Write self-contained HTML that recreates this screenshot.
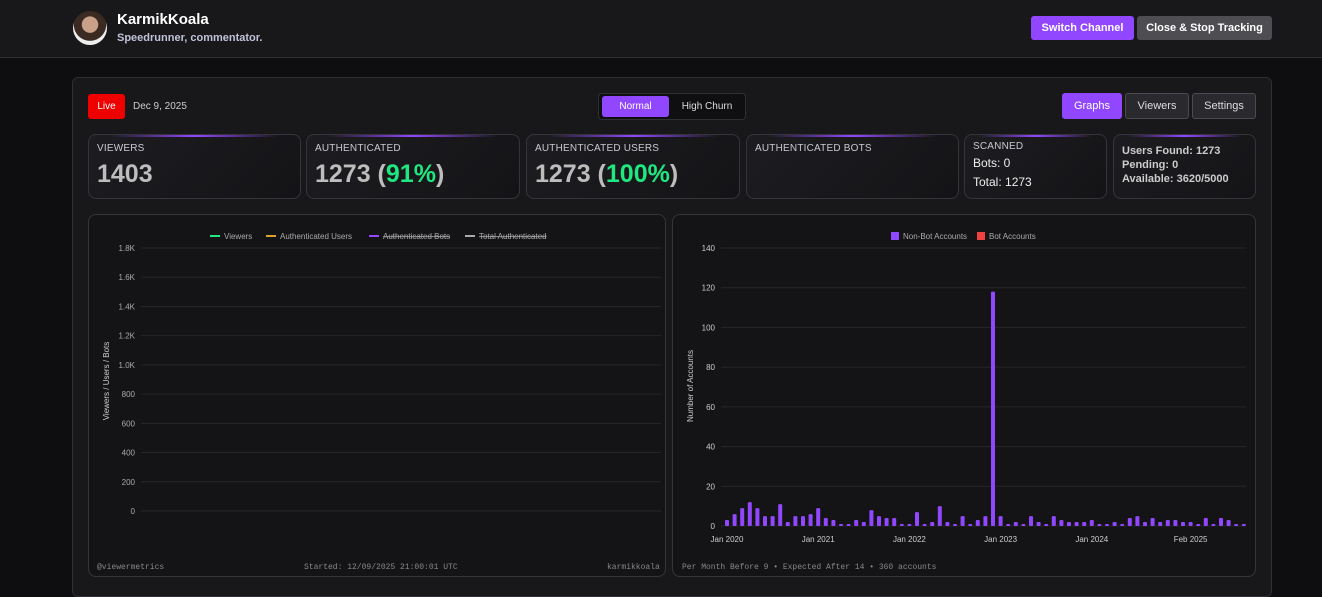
<!DOCTYPE html>
<html><head><meta charset="utf-8">
<style>
*{box-sizing:border-box;margin:0;padding:0}
body{width:1322px;height:589px;overflow:hidden;background:#0e0e10;font-family:"Liberation Sans",sans-serif;color:#ddd;position:relative}
.abs{position:absolute}
.hdr{left:0;top:0;width:1322px;height:58px;background:#18181b;border-bottom:1px solid #2f2f35}
.btn{position:absolute;border-radius:3px;font-size:11px;display:flex;align-items:center;justify-content:center;font-weight:bold;white-space:nowrap}
.panel{left:72px;top:77px;width:1200px;height:520px;background:#18181b;border:1px solid #2f2f35;border-radius:6px}
.card{position:absolute;top:134px;height:65px;border:1px solid #34343a;border-radius:8px;background:linear-gradient(135deg,#1d1d21,#141417);overflow:hidden}
.card:before{content:"";position:absolute;left:10%;right:10%;top:0;height:2px;background:linear-gradient(90deg,transparent,#9147ff,transparent)}
.lbl{position:absolute;left:8px;top:8px;font-size:10px;color:#c8c8d0;letter-spacing:.2px}
.big{position:absolute;left:8px;top:25px;font-size:25px;font-weight:bold;color:#bdbdbd}
.g{color:#1ee87f}
.chart{position:absolute;top:214px;height:363px;border:1px solid #34343a;border-radius:8px;background:#141416;overflow:hidden}
.mono{font-family:"Liberation Mono",monospace;font-size:8px;color:#888}
</style></head><body>
<div class="abs hdr">
  <div class="abs" style="left:73px;top:11px;width:34px;height:34px;border-radius:50%;background:radial-gradient(circle at 50% 40%,#c9a189 0 30%,#3a2a22 32% 60%,#eee 62%)"></div>
  <div class="abs" style="left:117px;top:11px;font-size:15px;font-weight:bold;color:#fff">KarmikKoala</div>
  <div class="abs" style="left:117px;top:32px;font-size:11px;font-weight:bold;color:#bfc3d6">Speedrunner, commentator.</div>
  <div class="btn" style="left:1031px;top:16px;width:103px;height:24px;background:#9147ff;color:#fff">Switch Channel</div>
  <div class="btn" style="left:1137px;top:16px;width:135px;height:24px;background:#4d4d52;color:#fff">Close &amp; Stop Tracking</div>
</div>
<div class="abs panel"></div>
<div class="btn" style="left:88px;top:94px;width:37px;height:25px;background:#e00;color:#fff;font-weight:normal;font-size:10px">Live</div>
<div class="abs" style="left:133px;top:101px;font-size:10px;color:#ccc">Dec 9, 2025</div>
<div class="abs" style="left:598px;top:93px;width:148px;height:27px;border:1px solid #2f2f35;border-radius:4px;background:#0f0f11"></div>
<div class="btn" style="left:602px;top:96px;width:67px;height:21px;background:#9147ff;color:#fff;font-weight:normal;font-size:10px">Normal</div>
<div class="btn" style="left:672px;top:96px;width:70px;height:21px;color:#ddd;font-weight:normal;font-size:10px">High Churn</div>
<div class="btn" style="left:1062px;top:93px;width:60px;height:26px;background:#9147ff;color:#fff;font-weight:normal">Graphs</div>
<div class="btn" style="left:1125px;top:93px;width:64px;height:26px;background:#2a2a2e;border:1px solid #4a4a50;color:#ddd;font-weight:normal">Viewers</div>
<div class="btn" style="left:1192px;top:93px;width:64px;height:26px;background:#2a2a2e;border:1px solid #4a4a50;color:#ddd;font-weight:normal">Settings</div>

<div class="card" style="left:88px;width:213px"><div class="lbl">VIEWERS</div><div class="big">1403</div></div>
<div class="card" style="left:306px;width:214px"><div class="lbl">AUTHENTICATED</div><div class="big">1273 (<span class="g">91%</span>)</div></div>
<div class="card" style="left:526px;width:214px"><div class="lbl">AUTHENTICATED USERS</div><div class="big">1273 (<span class="g">100%</span>)</div></div>
<div class="card" style="left:746px;width:213px"><div class="lbl">AUTHENTICATED BOTS</div></div>
<div class="card" style="left:964px;width:143px"><div class="lbl" style="top:6px">SCANNED</div><div class="abs" style="left:8px;top:21px;font-size:12px;color:#eee">Bots: 0</div><div class="abs" style="left:8px;top:40px;font-size:12px;color:#eee">Total: 1273</div></div>
<div class="card" style="left:1113px;width:143px"><div class="abs" style="left:8px;top:9px;font-size:11px;font-weight:bold;color:#ccc;line-height:14px">Users Found: 1273<br>Pending: 0<br>Available: 3620/5000</div></div>

<div class="chart" style="left:88px;width:578px">
<svg id="lsvg" width="578" height="363" style="position:absolute;left:0;top:0"></svg>
<div class="abs mono" style="left:8px;top:348px">@viewermetrics</div>
<div class="abs mono" style="left:215px;top:348px">Started: 12/09/2025 21:00:01 UTC</div>
<div class="abs mono" style="left:518px;top:348px">karmikkoala</div>
</div>
<div class="chart" style="left:672px;width:584px">
<svg id="bsvg" width="584" height="363" style="position:absolute;left:0;top:0"></svg>
<div class="abs mono" style="left:9px;top:348px">Per Month Before 9 • Expected After 14 • 360 accounts</div>
</div>
<script>
const NS="http://www.w3.org/2000/svg";
function mk(p,t,a,txt){const e=document.createElementNS(NS,t);for(const k in a)e.setAttribute(k,a[k]);if(txt!==undefined)e.textContent=txt;p.appendChild(e);return e;}
// Line chart (empty data)
const lineTicks=[0,200,400,600,800,1000,1200,1400,1600,1800];
const lineTickLabels=["0","200","400","600","800","1.0K","1.2K","1.4K","1.6K","1.8K"];
const legendLine=["Viewers","Authenticated Users","Authenticated Bots","Total Authenticated"];
const legendColors=["#1ee87f","#e0a030","#9147ff","#aaa"];
const ls=document.getElementById('lsvg');
const ly=v=>296-v/1800*263;
lineTicks.forEach((v,i)=>{
 const l=mk(ls,'line',{x1:52,x2:572,y1:ly(v),y2:ly(v),stroke:'#26262a'});
 
 const t=mk(ls,'text',{x:46,y:ly(v)+3,'text-anchor':'end','font-size':8,fill:'#aaa'},lineTickLabels[i]);
 
});
const yt=mk(ls,'text',{transform:'translate(20,166) rotate(-90)','text-anchor':'middle','font-size':8,fill:'#ccc'},'Viewers / Users / Bots');

let lx=[121,177,280,376];
legendLine.forEach((n,i)=>{
 const g=mk(ls,'g',{});
 mk(g,'line',{x1:lx[i],x2:lx[i]+10,y1:21,y2:21,stroke:legendColors[i],'stroke-width':2});
 mk(g,'text',{x:lx[i]+14,y:24,'font-size':8,fill:'#aaa','text-decoration':i>=2?'line-through':'none'},n);
});
// Bar chart
const barValues=[3,6,9,12,9,5,5,11,2,5,5,6,9,4,3,1,1,3,2,8,5,4,4,1,1,7,1,2,10,2,1,5,1,3,5,118,5,1,2,1,5,2,1,5,3,2,2,2,3,1,1,2,1,4,5,2,4,2,3,3,2,2,1,4,1,4,3,1,1];
const botValues=barValues.map(()=>0);
const barTicks=[0,20,40,60,80,100,120,140];
const xLabels=["Jan 2020","Jan 2021","Jan 2022","Jan 2023","Jan 2024","Feb 2025"];
const xLabelIdx=[0,12,24,36,48,61];
const bs=document.getElementById('bsvg');
const by=v=>311-v/140*278;
const bx=i=>54+i*7.6;
barTicks.forEach(v=>{
 const l=mk(bs,'line',{x1:48,x2:573,y1:by(v),y2:by(v),stroke:'#26262a'});
 
 const t=mk(bs,'text',{x:42,y:by(v)+3,'text-anchor':'end','font-size':8,fill:'#ccc'},String(v));
 
});
barValues.forEach((v,i)=>{
 const r=mk(bs,'rect',{x:bx(i)-2,y:by(v),width:4,height:Math.max(1,by(0)-by(v)),fill:'#9147ff',rx:1});
 
});
xLabels.forEach((s,k)=>{
 const t=mk(bs,'text',{x:bx(xLabelIdx[k]),y:327,'text-anchor':'middle','font-size':8,fill:'#ccc'},s);
 
});
const byt=mk(bs,'text',{transform:'translate(20,171) rotate(-90)','text-anchor':'middle','font-size':8,fill:'#ccc'},'Number of Accounts');

[["Non-Bot Accounts","#9147ff",218],["Bot Accounts","#f04040",304]].forEach(([n,c,x])=>{
 const g=mk(bs,'g',{});
 mk(g,'rect',{x:x,y:17,width:8,height:8,fill:c});
 mk(g,'text',{x:x+12,y:24,'font-size':8,fill:'#aaa'},n);
});
</script>
</body></html>
